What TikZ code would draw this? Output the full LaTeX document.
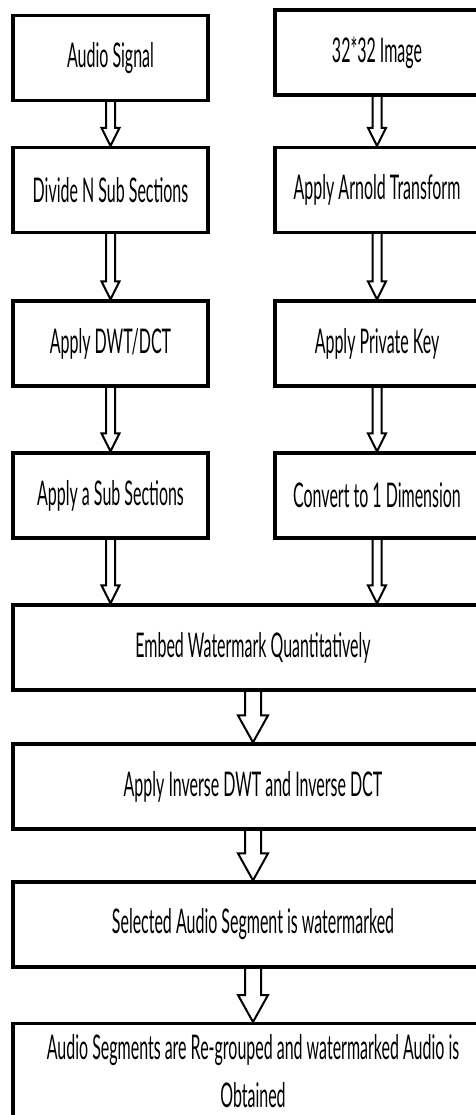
\documentclass[tikz,border=0pt]{standalone}
\usepackage{fontspec}
\setmainfont{Lato}[FakeStretch=0.47]
\usetikzlibrary{calc}

\newcommand{\hollowarrow}[5]{% from, to, half shaft, half head, head length
  \coordinate (tip) at (#1.south |- #2.north);
  \draw[arrowline] ($(#1.south)+(-#3,0)$) -- ($(tip)+(-#3,-#5)$) -- ($(tip)+(-#4,-#5)$)
    -- (tip) -- ($(tip)+(#4,-#5)$) -- ($(tip)+(#3,-#5)$) -- ($(#1.south)+(#3,0)$);
}

\begin{document}
\begin{tikzpicture}[x=1pt,y=-1pt,
  box/.style={draw,line width=3.2pt,rectangle,inner sep=0pt,
    font=\fontsize{34}{48}\selectfont},
  smallbox/.style={box,minimum width=195pt,minimum height=85pt},
  widebox/.style={box,minimum width=480pt,minimum height=85pt},
  arrowline/.style={line width=2pt,line join=miter}]
  \useasboundingbox (0,0) rectangle (475,1115);

  % left column
  \node[smallbox] (audio)  at (110.5,58)    {Audio Signal};
  \node[smallbox] (divide) at (110.5,190)   {Divide N Sub Sections};
  \node[smallbox] (dwt)    at (110.5,343.5) {Apply DWT/DCT};
  \node[smallbox] (subsec) at (110.5,495.5) {Apply a Sub Sections};

  % right column
  \node[smallbox,minimum width=204pt] (image)   at (377,52.5)  {32*32 Image};
  \node[smallbox,minimum width=204pt] (arnold)  at (377,190)   {Apply Arnold Transform};
  \node[smallbox,minimum width=204pt] (key)     at (377,343.5) {Apply Private Key};
  \node[smallbox,minimum width=204pt] (convert) at (377,495.5) {Convert to 1 Dimension};

  % merged part
  \node[widebox] (embed)    at (253,647.5) {Embed Watermark Quantitatively};
  \node[widebox] (inverse)  at (253,786.5) {Apply Inverse DWT and Inverse DCT};
  \node[widebox] (selected) at (253,924.5) {Selected Audio Segment is watermarked};
  \node[box,minimum width=480pt,minimum height=110pt,align=center,anchor=north,
        text depth=0pt] (regroup) at (253,1022)
        {\raisebox{0pt}[36pt]{}Audio Segments are Re-grouped and watermarked Audio is\\Obtained\\[30pt]};

  \hollowarrow{audio}{divide}{4.5}{9}{18}
  \hollowarrow{divide}{dwt}{4.5}{9}{18}
  \hollowarrow{dwt}{subsec}{4.5}{9}{18}
  \hollowarrow{subsec}{embed}{4.5}{9}{18}
  \hollowarrow{image}{arnold}{4.5}{9}{18}
  \hollowarrow{arnold}{key}{4.5}{9}{18}
  \hollowarrow{key}{convert}{4.5}{9}{18}
  \hollowarrow{convert}{embed}{4.5}{9}{18}
  \hollowarrow{embed}{inverse}{8}{15}{27}
  \hollowarrow{inverse}{selected}{8}{15}{27}
  \hollowarrow{selected}{regroup}{8}{15}{27}
\end{tikzpicture}
\end{document}
